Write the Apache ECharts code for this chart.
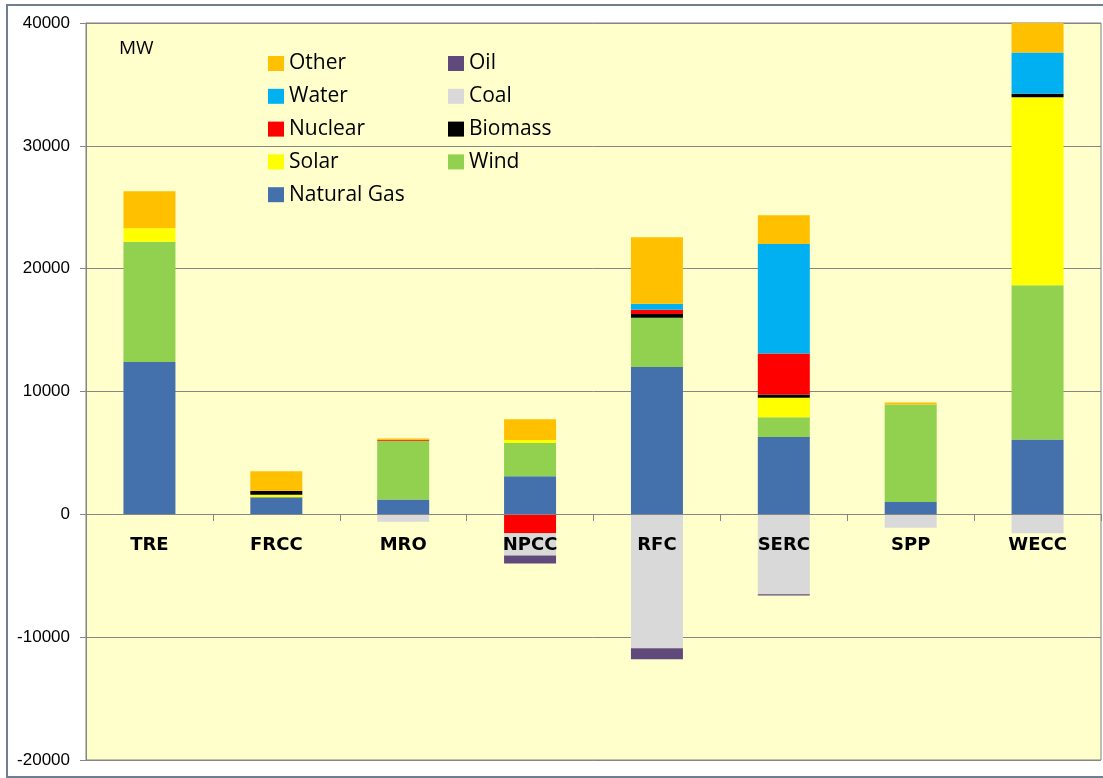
<!DOCTYPE html>
<html>
<head>
    <meta charset="utf-8">
    <title>Capacity changes by region</title>
    <script src="https://cdn.jsdelivr.net/npm/echarts/dist/echarts.min.js"></script>
    <style>
        body { margin: 0; background: #fff; }
        #chart1 { width: 1103px; height: 778px; }
    </style>
</head>
<body>
<div id="chart1"></div>
<script type="text/javascript">
    // regions and MW per fuel
    var regions = ['TRE', 'FRCC', 'MRO', 'NPCC', 'RFC', 'SERC', 'SPP', 'WECC'];
    var naturalGas = [12400, 1400, 1200, 3100, 12000, 6300, 1000, 6100];
    var wind = [9800, 0, 4800, 2700, 4000, 1600, 7950, 12550];
    var solar = [1100, 200, 0, 250, 0, 1600, 0, 15300];
    var biomass = [0, 300, 0, 0, 300, 250, 0, 300];
    var nuclear = [0, 0, 80, -1550, 350, 3350, 0, 0];
    var coal = [0, 0, -600, -1800, -10900, -6500, -1100, -1550];
    var water = [0, 0, 0, 0, 500, 8900, 0, 3350];
    var oil = [0, 0, 0, -650, -900, -100, 0, 0];
    var other = [3000, 1600, 100, 1700, 5400, 2350, 150, 2500];
    var yTicks = [-20000, -10000, 0, 10000, 20000, 30000, 40000];

    var myChart1 = echarts.init(document.getElementById('chart1'));

    function bar(name, data, color) {
        return {
            name: name,
            type: 'bar',
            stack: 'mw',
            barWidth: 52,
            data: data,
            itemStyle: { color: color },
            emphasis: { disabled: true }
        };
    }

    var legendText = { fontFamily: 'Open Sans', fontSize: 21, color: '#000' };

    myChart1.setOption({
        animation: false,
        backgroundColor: '#fff',
        title: {
            text: 'MW',
            left: 114,
            top: 34,
            textStyle: { fontFamily: 'Open Sans', fontSize: 19, fontWeight: 'normal', color: '#000' }
        },
        graphic: [{
            type: 'rect',
            silent: true,
            z: 100,
            shape: { x: 7, y: 5, width: 1110, height: 772 },
            style: { fill: 'none', stroke: '#6f7f8f', lineWidth: 2 }
        }],
        legend: [{
            orient: 'vertical',
            left: 263, top: 48,
            icon: 'rect', itemWidth: 16, itemHeight: 15, itemGap: 11.8,
            selectedMode: false,
            textStyle: legendText,
            data: ['Other', 'Water', 'Nuclear', 'Solar', 'Natural Gas']
        }, {
            orient: 'vertical',
            left: 443, top: 48,
            icon: 'rect', itemWidth: 16, itemHeight: 15, itemGap: 11.8,
            selectedMode: false,
            textStyle: legendText,
            data: ['Oil', 'Coal', 'Biomass', 'Wind']
        }],
        grid: {
            left: 86, right: 2, top: 23, bottom: 18,
            show: true,
            backgroundColor: '#ffffcc',
            borderColor: '#7f7f7f',
            borderWidth: 1,
            containLabel: false,
            outerBoundsMode: 'none'
        },
        xAxis: {
            type: 'category',
            data: regions,
            position: 'bottom',
            // sit the axis on the zero line (760 - 514 px)
            offset: -246,
            axisLine: { onZero: false, lineStyle: { color: '#868686', width: 1 } },
            axisTick: { show: true, length: 7, interval: 0, lineStyle: { color: '#868686' } },
            axisLabel: {
                show: true, margin: 22, interval: 0, hideOverlap: false,
                fontFamily: 'DejaVu Sans', fontWeight: 'bold', fontSize: 18, color: '#000'
            },
            z: 5
        },
        yAxis: {
            type: 'value',
            min: yTicks[0],
            max: yTicks[yTicks.length - 1],
            interval: 10000,
            axisLine: { show: true, lineStyle: { color: '#868686' } },
            axisTick: { show: true, length: 6, lineStyle: { color: '#868686' } },
            axisLabel: {
                margin: 16, fontFamily: 'Liberation Sans', fontSize: 17, color: '#000',
                formatter: function (v) { return String(v); }
            },
            splitLine: { show: true, lineStyle: { color: '#868686', width: 1 } }
        },
        series: [
            bar('Natural Gas', naturalGas, '#4470ac'),
            bar('Wind', wind, '#92d050'),
            bar('Solar', solar, '#ffff00'),
            bar('Biomass', biomass, '#000000'),
            bar('Nuclear', nuclear, '#ff0000'),
            bar('Coal', coal, '#d9d9d9'),
            bar('Water', water, '#00b0f0'),
            bar('Oil', oil, '#604a7b'),
            bar('Other', other, '#ffc000')
        ]
    });
</script>
</body>
</html>
